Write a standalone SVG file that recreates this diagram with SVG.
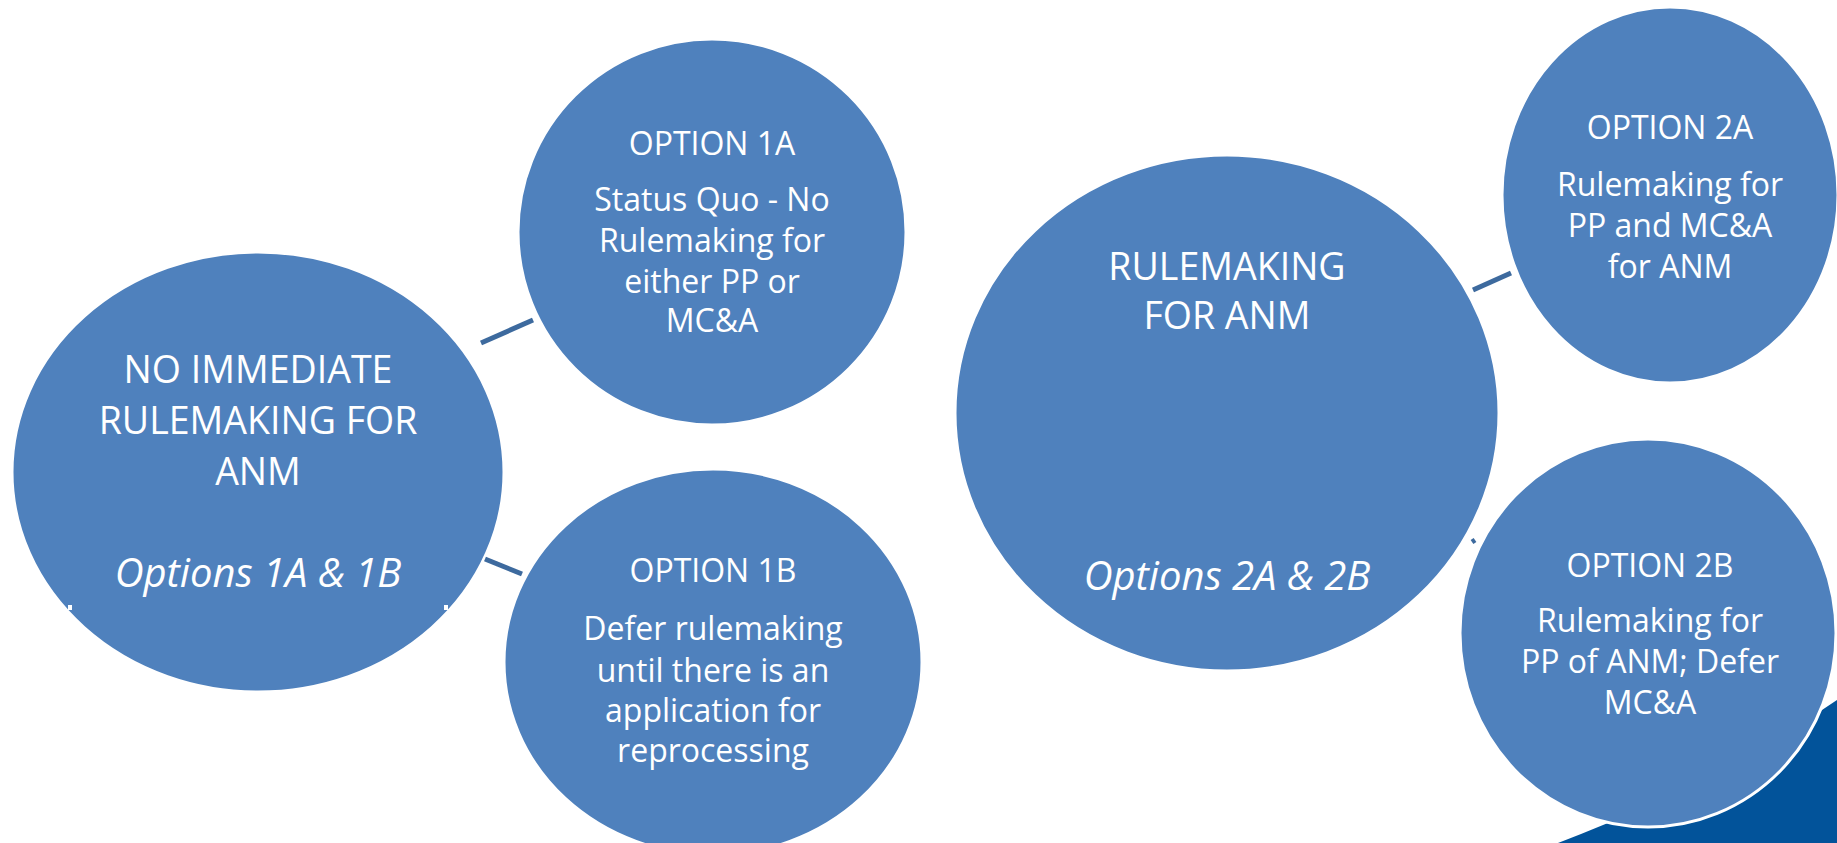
<svg xmlns="http://www.w3.org/2000/svg" width="1837" height="843" viewBox="0 0 1837 843">
<style>
.node{fill:#4F81BD;stroke:#FFFFFF;stroke-width:3}
.t{font-family:"Open Sans","DejaVu Sans",sans-serif;fill:#FFFFFF;text-anchor:middle}
.big{font-size:37.5px}
.sm{font-size:32px}
.it{font-style:italic;font-size:40px}
.conn{stroke:#3D6A9E;stroke-width:5;fill:none}
.notch{fill:#FFFFFF}
</style>
<rect width="1837" height="843" fill="#FFFFFF"/>
<path id="corner" d="M1558,843 Q1720,781 1837,700 L1837,843 Z" fill="#02539A"/>
<g id="node-no-immediate">
<ellipse class="node" cx="258" cy="472" rx="246" ry="220"/>
<text class="t big" x="258" y="383">NO IMMEDIATE</text>
<text class="t big" x="258" y="434">RULEMAKING FOR</text>
<text class="t big" x="258" y="485">ANM</text>
<text class="t it" x="258" y="587">Options 1A &amp; 1B</text>
<rect class="notch" x="68" y="605" width="4" height="5"/>
<rect class="notch" x="444" y="605" width="4" height="5"/>
</g>
<g id="node-1a">
<ellipse class="node" cx="712" cy="232" rx="194" ry="193"/>
<text class="t sm" x="712" y="155">OPTION 1A</text>
<text class="t sm" x="712" y="211">Status Quo - No</text>
<text class="t sm" x="712" y="252">Rulemaking for</text>
<text class="t sm" x="712" y="293">either PP or</text>
<text class="t sm" x="712" y="332">MC&amp;A</text>
</g>
<g id="node-1b">
<ellipse class="node" cx="713" cy="662" rx="209" ry="193"/>
<text class="t sm" x="713" y="582">OPTION 1B</text>
<text class="t sm" x="713" y="640">Defer rulemaking</text>
<text class="t sm" x="713" y="682">until there is an</text>
<text class="t sm" x="713" y="722">application for</text>
<text class="t sm" x="713" y="762">reprocessing</text>
</g>
<g id="node-rulemaking">
<ellipse class="node" cx="1227" cy="413" rx="272" ry="258"/>
<text class="t big" x="1227" y="280">RULEMAKING</text>
<text class="t big" x="1227" y="329">FOR ANM</text>
<text class="t it" x="1227" y="590">Options 2A &amp; 2B</text>
<rect class="notch" x="1052" y="611" width="3" height="4"/>
</g>
<g id="node-2a">
<ellipse class="node" cx="1670" cy="195" rx="168" ry="188"/>
<text class="t sm" x="1670" y="139">OPTION 2A</text>
<text class="t sm" x="1670" y="196">Rulemaking for</text>
<text class="t sm" x="1670" y="237">PP and MC&amp;A</text>
<text class="t sm" x="1670" y="278">for ANM</text>
</g>
<g id="node-2b">
<ellipse class="node" cx="1648" cy="633" rx="188" ry="194"/>
<text class="t sm" x="1650" y="577">OPTION 2B</text>
<text class="t sm" x="1650" y="632">Rulemaking for</text>
<text class="t sm" x="1650" y="673">PP of ANM; Defer</text>
<text class="t sm" x="1650" y="714">MC&amp;A</text>
</g>
<g id="connectors">
<line class="conn" x1="481" y1="343" x2="533" y2="320"/>
<line class="conn" x1="485" y1="559" x2="522" y2="574"/>
<line class="conn" x1="1473" y1="290" x2="1511" y2="273"/>
<line class="conn" x1="1472" y1="542" x2="1475" y2="540"/>
</g>
</svg>
